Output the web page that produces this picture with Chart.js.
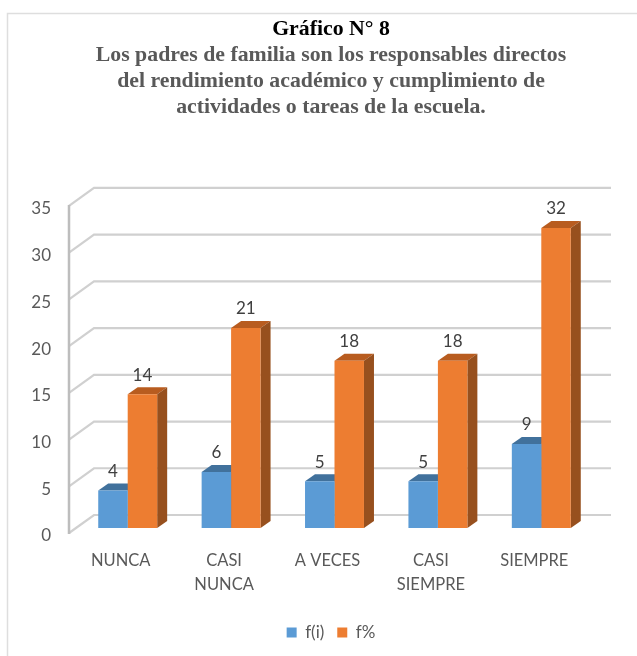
<!DOCTYPE html>
<html>
<head>
<meta charset="utf-8">
<style>html,body{margin:0;padding:0;background:#fff}#w{position:relative;width:637px;height:656px}#c{display:block;filter:blur(0.4px)}</style>
<script src="https://cdn.jsdelivr.net/npm/chart.js@4"></script>
</head>
<body>
<div id="w"><canvas id="c" width="637" height="656"></canvas></div>
<script>
const categories = [["NUNCA"], ["CASI", "NUNCA"], ["A VECES"], ["CASI", "SIEMPRE"], ["SIEMPRE"]];
const seriesNames = ["f(i)", "f%"];
const fi = [4, 6, 5, 5, 9];
const fp = [14.3, 21.4, 17.9, 17.9, 32.1];
const titleLine = "Gráfico N° 8";
const subtitleLines = [
  "Los padres de familia son los responsables directos",
  "del rendimiento académico y cumplimiento de",
  "actividades o tareas de la escuela."
];
const tickValues = [0, 5, 10, 15, 20, 25, 30, 35];

const BLUE = "#5B9BD5", ORANGE = "#ED7D31";
const sideCols = [["#41719C", "#3F6F9B"], ["#B85C1F", "#97501E"]];
const WALL = { dx: 25, dy: -18 };
const BAR = { dx: 7, dy: -5, ddx: 10, ddy: -7 };
const LABEL = "#404040", TXT = "#595959";

const wall3d = {
  id: "wall3d",
  beforeDraw(chart) {
    const { ctx, chartArea: a, scales: { y } } = chart;
    ctx.save();
    ctx.fillStyle = "#fff";
    ctx.fillRect(0, 0, chart.width, chart.height);
    ctx.strokeStyle = "#DEDEDE";
    ctx.lineWidth = 1.5;
    ctx.beginPath();
    ctx.moveTo(7.5, chart.height);
    ctx.lineTo(7.5, 13.5);
    ctx.lineTo(chart.width, 13.5);
    ctx.stroke();
    ctx.strokeStyle = "#D0D0D0";
    ctx.lineWidth = 2.2;
    tickValues.forEach(v => {
      const py = y.getPixelForValue(v);
      ctx.beginPath();
      ctx.moveTo(a.left, py);
      ctx.lineTo(a.left + WALL.dx, py + WALL.dy);
      ctx.lineTo(a.right + WALL.dx, py + WALL.dy);
      ctx.stroke();
    });
    ctx.strokeStyle = "#BDBDBD";
    ctx.lineWidth = 2.5;
    ctx.beginPath();
    ctx.moveTo(a.left, y.getPixelForValue(35) - 1);
    ctx.lineTo(a.left, y.getPixelForValue(0) + 1);
    ctx.stroke();
    ctx.restore();
  },
  beforeDatasetsDraw(chart) {
    const { ctx } = chart;
    ctx.save();
    ctx.translate(BAR.dx, BAR.dy);
    [0, 1].forEach(idx => {
      const cols = sideCols[idx];
      chart.getDatasetMeta(idx).data.forEach(b => {
        const l = b.x - b.width / 2, r = b.x + b.width / 2, t = b.y, bt = b.base;
        ctx.fillStyle = cols[0];
        ctx.beginPath();
        ctx.moveTo(l, t);
        ctx.lineTo(l + BAR.ddx, t + BAR.ddy);
        ctx.lineTo(r + BAR.ddx, t + BAR.ddy);
        ctx.lineTo(r, t);
        ctx.closePath();
        ctx.fill();
        ctx.fillStyle = cols[1];
        ctx.beginPath();
        ctx.moveTo(r, t);
        ctx.lineTo(r + BAR.ddx, t + BAR.ddy);
        ctx.lineTo(r + BAR.ddx, bt + BAR.ddy);
        ctx.lineTo(r, bt);
        ctx.closePath();
        ctx.fill();
      });
    });
  },
  afterDatasetsDraw(chart) {
    const { ctx } = chart;
    ctx.restore();
    ctx.save();
    ctx.font = "17px Lato";
    ctx.fillStyle = LABEL;
    ctx.textAlign = "center";
    ctx.textBaseline = "middle";
    chart.getDatasetMeta(0).data.forEach((b, i) => {
      ctx.fillText(String(Math.round(fi[i])), b.x + BAR.dx, b.y + BAR.dy - 19);
    });
    chart.getDatasetMeta(1).data.forEach((b, i) => {
      ctx.fillText(String(Math.round(fp[i])), b.x + BAR.dx, b.y + BAR.dy - 19);
    });
    ctx.restore();
  }
};

new Chart(document.getElementById("c"), {
  type: "bar",
  data: {
    labels: categories,
    datasets: [
      { label: seriesNames[0], data: fi, backgroundColor: BLUE, clip: false },
      { label: seriesNames[1], data: fp, backgroundColor: ORANGE, clip: false }
    ]
  },
  plugins: [wall3d],
  options: {
    responsive: false,
    animation: false,
    layout: { padding: { top: 17, left: 25, right: 0, bottom: 5 } },
    datasets: { bar: { barPercentage: 1, categoryPercentage: 0.57 } },
    plugins: {
      tooltip: { enabled: false },
      title: {
        display: true, text: titleLine, color: "#000",
        font: { family: "Liberation Serif", size: 21.8, weight: "bold", lineHeight: 1.18 },
        padding: { top: 0, bottom: 0 }
      },
      subtitle: {
        display: true, text: subtitleLines, color: TXT,
        font: { family: "Liberation Serif", size: 21.8, weight: "bold", lineHeight: 1.18 },
        padding: { top: 0, bottom: 86 }
      },
      legend: {
        position: "bottom",
        labels: {
          boxWidth: 10, boxHeight: 10, color: TXT, padding: 13,
          font: { family: "Lato", size: 17 }
        }
      }
    },
    scales: {
      x: {
        grid: { display: false },
        border: { display: false },
        ticks: { color: TXT, font: { family: "Lato", size: 16.5, lineHeight: 1.5 }, maxRotation: 0, padding: 7 },
        afterFit(s) { s.height = 78; }
      },
      y: {
        min: 0, max: 35,
        grid: { display: false },
        border: { display: false },
        ticks: { stepSize: 5, color: TXT, font: { family: "Lato", size: 17 }, padding: 10, labelOffset: 3 },
        afterFit(s) { s.width = 44; }
      },
      rightGap: {
        position: "right",
        grid: { display: false },
        border: { display: false },
        ticks: { display: false },
        afterFit(s) { s.width = 51; }
      }
    }
  }
});
</script>
</body>
</html>
